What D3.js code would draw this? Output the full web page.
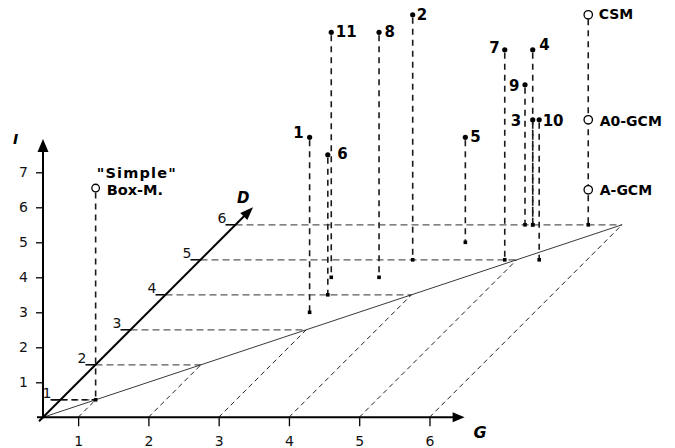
<!DOCTYPE html>
<html><head><meta charset="utf-8">
<script src="https://cdn.jsdelivr.net/npm/d3@7"></script>
<style>
html,body{margin:0;padding:0;background:#fff;}
svg{display:block;}
text{font-family:"DejaVu Sans",Verdana,sans-serif;}
</style></head>
<body>
<svg id="chart" width="675" height="448"></svg>
<script>
// ---- data ----
const gTicks = [1, 2, 3, 4, 5, 6];
const dTicks = [1, 2, 3, 4, 5, 6];
const iTicks = [1, 2, 3, 4, 5, 6, 7];

const pointNames = ["1", "2", "3", "4", "5", "6", "7", "8", "9", "10", "11"];
const pointG = [2.80, 3.52, 4.73, 4.73, 4.02, 2.81, 4.83, 3.29, 4.62, 5.32, 2.61];
const pointD = [3.5, 5.0, 6.0, 6.0, 5.5, 4.0, 5.0, 4.5, 6.0, 5.0, 4.5];
const pointI = [5, 7, 3, 5, 3, 4, 6, 7, 4, 4, 7];

const refNames = ["CSM", "A0-GCM", "A-GCM"];
const refG = [5.52, 5.52, 5.52];
const refD = [6, 6, 6];
const refI = [6, 3, 1];

const boxLines = ["\"Simple\"", "Box-M."];
const boxG = 1.0, boxD = 1.0, boxI = 6.05;

const axisNames = {G: "G", D: "D", I: "I"};

// ---- layout ----
const svg = d3.select("#chart");
const OX = 43, OY = 417.3;
const gScale = d3.scaleLinear().domain([0.5, 6.5]).range([0, 421.6]);
const dScale = d3.scaleLinear().domain([0.5, 6.5]).range([0, 210]);
const iScale = d3.scaleLinear().domain([0, 8]).range([0, 280]);
const px = (G, D) => OX + gScale(G) + dScale(D);
const py = (D, I) => OY - dScale(D) - iScale(I);

const gridG = svg.append("g");
// horizontal dashed lines from D axis to diagonal
gridG.selectAll("line.hd").data(dTicks).enter().append("line")
  .attr("x1", d => px(0.5, d)).attr("y1", d => py(d, 0))
  .attr("x2", d => px(d, d)).attr("y2", d => py(d, 0))
  .attr("stroke", "#5a5a5a").attr("stroke-width", 1.3).attr("stroke-dasharray", "7,4");
// diagonal dashed lines from G ticks
gridG.selectAll("line.gd").data(gTicks).enter().append("line")
  .attr("x1", g => px(g, 0.5)).attr("y1", py(0.5, 0))
  .attr("x2", g => px(g, g)).attr("y2", g => py(g, 0))
  .attr("stroke", "#222").attr("stroke-width", 1).attr("stroke-dasharray", "5,3.5");
// solid diagonal
gridG.append("line")
  .attr("x1", px(0.5, 0.5)).attr("y1", py(0.5, 0))
  .attr("x2", px(6, 6)).attr("y2", py(6, 0))
  .attr("stroke", "#222").attr("stroke-width", 0.9);

// ---- axes ----
const xAxisScale = d3.scaleLinear().domain([0.5, 6.5]).range([OX, OX + 421.6]);
svg.append("g").attr("transform", `translate(0,${OY})`)
  .call(d3.axisBottom(xAxisScale).tickValues(gTicks).tickSize(9).tickPadding(10).tickFormat(d3.format("d")))
  .call(g => g.select(".domain").remove())
  .call(g => g.selectAll("line").attr("stroke", "#000").attr("stroke-width", 1.3))
  .call(g => g.selectAll("text").attr("font-family", "DejaVu Sans").attr("font-size", 14).attr("fill", "#111"));

const yAxisScale = d3.scaleLinear().domain([0, 8]).range([OY, OY - 280]);
svg.append("g").attr("transform", `translate(${OX},0)`)
  .call(d3.axisLeft(yAxisScale).tickValues(iTicks).tickSize(7).tickPadding(8).tickFormat(d3.format("d")))
  .call(g => g.select(".domain").remove())
  .call(g => g.selectAll("line").attr("stroke", "#000").attr("stroke-width", 1.3))
  .call(g => g.selectAll("text").attr("font-family", "DejaVu Sans").attr("font-size", 14).attr("fill", "#111"));

function arrow(x1, y1, x2, y2, w, len, half) {
  const ang = Math.atan2(y2 - y1, x2 - x1);
  const bx = x2 - len * Math.cos(ang), by = y2 - len * Math.sin(ang);
  svg.append("line").attr("x1", x1).attr("y1", y1).attr("x2", bx + 2 * Math.cos(ang)).attr("y2", by + 2 * Math.sin(ang))
    .attr("stroke", "#000").attr("stroke-width", w);
  const nx = -Math.sin(ang) * half, ny = Math.cos(ang) * half;
  svg.append("path").attr("d", `M${x2},${y2}L${bx + nx},${by + ny}L${bx - nx},${by - ny}Z`).attr("fill", "#000");
}
// G axis
arrow(OX - 6, OY, xAxisScale(6.5), OY, 2, 12, 5);
// I axis
arrow(OX, OY + 1, OX, yAxisScale(7.95), 2, 13, 5.5);
// D axis
arrow(px(0.5, 0.5) - 4, py(0.5, 0) + 4, px(0.5, 6.5), py(6.5, 0), 2, 13, 5);

// D ticks
const dt = svg.append("g");
dt.selectAll("line").data(dTicks).enter().append("line")
  .attr("x1", d => px(0.5, d) - 10).attr("x2", d => px(0.5, d))
  .attr("y1", d => py(d, 0)).attr("y2", d => py(d, 0))
  .attr("stroke", "#000").attr("stroke-width", 1.5);
dt.selectAll("text").data(dTicks).enter().append("text")
  .attr("x", d => px(0.5, d) - 9).attr("y", d => py(d, 0) - 2.3)
  .attr("text-anchor", "end").attr("font-size", 14).attr("fill", "#111").text(d => d);

// axis titles
svg.append("text").attr("x", xAxisScale(6.5) + 9).attr("y", OY + 21)
  .attr("font-size", 16).attr("font-weight", "bold").attr("font-style", "italic").text(axisNames.G);
svg.append("text").attr("x", OX - 30).attr("y", yAxisScale(7.95) + 5)
  .attr("font-family", "DejaVu Serif").attr("font-size", 14).attr("font-weight", "bold").attr("font-style", "italic").text(axisNames.I);
svg.append("text").attr("x", px(0.5, 6.5) - 16).attr("y", py(6.5, 0) - 4)
  .attr("font-size", 15).attr("font-weight", "bold").attr("font-style", "italic").text(axisNames.D);

// ---- drops ----
const drop = (G, D, Itop, startOff) => svg.append("line")
  .attr("x1", px(G, D)).attr("x2", px(G, D))
  .attr("y1", py(D, Itop) + startOff).attr("y2", py(D, 0))
  .attr("stroke", "#1a1a1a").attr("stroke-width", 1.6).attr("stroke-dasharray", "6,5");
const base = (G, D) => svg.append("rect")
  .attr("x", px(G, D) - 1.8).attr("y", py(D, 0) - 1.8).attr("width", 3.6).attr("height", 3.6).attr("fill", "#000");

pointNames.forEach((n, k) => { drop(pointG[k], pointD[k], pointI[k], 3); });
refNames.forEach((n, k) => { if (refI[k] === d3.max(refI)) drop(refG[k], refD[k], refI[k], 4.5); });
drop(boxG, boxD, boxI, 4.5);
// box projection to the D axis
svg.append("line").attr("x1", px(0.5, boxD) - 9).attr("x2", px(boxG, boxD))
  .attr("y1", py(boxD, 0)).attr("y2", py(boxD, 0))
  .attr("stroke", "#111").attr("stroke-width", 1.6).attr("stroke-dasharray", "6,4");

pointNames.forEach((n, k) => base(pointG[k], pointD[k]));
base(refG[0], refD[0]);
base(boxG, boxD);

// ---- points ----
svg.selectAll("circle.pt").data(pointNames).enter().append("circle")
  .attr("cx", (n, k) => px(pointG[k], pointD[k])).attr("cy", (n, k) => py(pointD[k], pointI[k]))
  .attr("r", 2.6).attr("fill", "#000");

const labelPos = {
  "1": ["end", -6, 0.5], "2": ["start", 4, 5.5], "3": ["end", -11.5, 6], "4": ["start", 6.5, 0],
  "5": ["start", 5, 4.7], "6": ["start", 9.5, 4], "7": ["end", -5, 3.3], "8": ["start", 5.5, 4.7],
  "9": ["end", -5.5, 5.7], "10": ["start", 3.5, 6.5], "11": ["start", 4.5, 4.7]
};
svg.selectAll("text.pl").data(pointNames).enter().append("text")
  .attr("x", (n, k) => px(pointG[k], pointD[k]) + labelPos[n][1])
  .attr("y", (n, k) => py(pointD[k], pointI[k]) + labelPos[n][2])
  .attr("text-anchor", n => labelPos[n][0])
  .attr("font-size", 15).attr("font-weight", "bold").attr("fill", "#000").text(n => n);

// reference models (open circles)
const refPos = {"CSM": [10.5, 4.3], "A0-GCM": [11.5, 6], "A-GCM": [11.5, 5]};
svg.selectAll("circle.ref").data(refNames).enter().append("circle")
  .attr("cx", (n, k) => px(refG[k], refD[k])).attr("cy", (n, k) => py(refD[k], refI[k]))
  .attr("r", 4.2).attr("fill", "#fff").attr("stroke", "#000").attr("stroke-width", 1.3);
svg.selectAll("text.ref").data(refNames).enter().append("text")
  .attr("x", (n, k) => px(refG[k], refD[k]) + refPos[n][0])
  .attr("y", (n, k) => py(refD[k], refI[k]) + refPos[n][1])
  .attr("font-size", 14).attr("font-weight", "bold").text(n => n);

// simple box model
svg.append("circle").attr("cx", px(boxG, boxD)).attr("cy", py(boxD, boxI))
  .attr("r", 3.8).attr("fill", "#fff").attr("stroke", "#000").attr("stroke-width", 1.3);
svg.append("text").attr("x", px(boxG, boxD) + 1).attr("y", py(boxD, boxI) - 9.8)
  .attr("font-size", 14.5).attr("font-weight", "bold").attr("letter-spacing", 1.2).text(boxLines[0]);
svg.append("text").attr("x", px(boxG, boxD) + 11).attr("y", py(boxD, boxI) + 6.5)
  .attr("font-size", 14.5).attr("font-weight", "bold").text(boxLines[1]);
</script>
</body></html>
